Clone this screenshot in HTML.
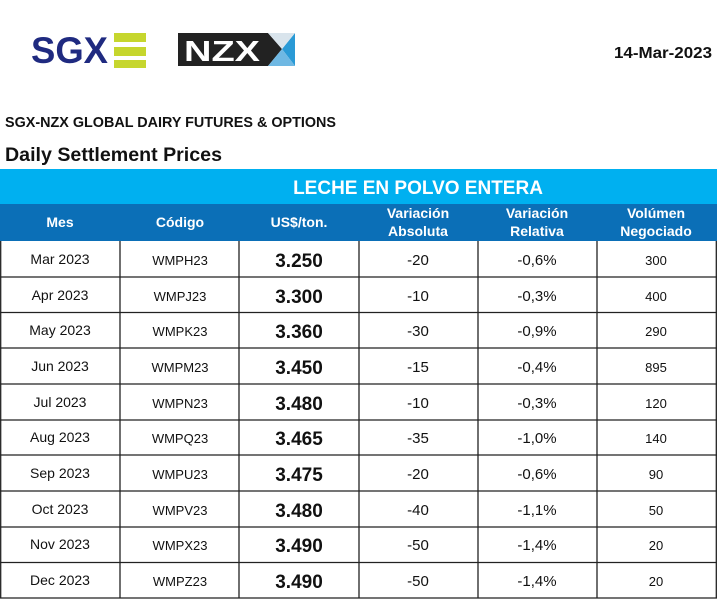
<!DOCTYPE html>
<html><head><meta charset="utf-8"><style>
html,body{margin:0;padding:0;background:#fff;}
svg{display:block;font-family:"Liberation Sans",sans-serif;}
</style></head><body>
<svg width="717" height="600" viewBox="0 0 717 600" xmlns="http://www.w3.org/2000/svg">
<rect width="717" height="600" fill="#fff"/>
<!-- SGX logo -->
<text x="31" y="63" font-size="37" font-weight="bold" fill="#1f2a80" textLength="77" lengthAdjust="spacingAndGlyphs">SGX</text>
<rect x="114" y="33" width="32" height="9" fill="#c6d62e"/>
<rect x="114" y="47" width="32" height="9" fill="#c6d62e"/>
<rect x="114" y="60" width="32" height="8" fill="#c6d62e"/>
<!-- NZX logo -->
<rect x="178" y="33" width="117" height="33" fill="#222"/>
<text x="184" y="61" font-size="29" font-weight="bold" fill="#fff" textLength="76" lengthAdjust="spacingAndGlyphs">NZX</text>
<polygon points="268,33 295,33 295,66 268,66 282,49" fill="#fff"/>
<polygon points="282,49 295,33 295,66" fill="#2a9ad6"/>
<polygon points="268,33 282,49 295,33" fill="#d9e4ec"/>
<polygon points="268,66 282,49 295,66" fill="#6fb8e3"/>
<text x="712" y="58" font-size="16" font-weight="bold" fill="#111" text-anchor="end" textLength="98" lengthAdjust="spacingAndGlyphs">14-Mar-2023</text>
<text x="5" y="127" font-size="15" font-weight="bold" fill="#111" textLength="331" lengthAdjust="spacingAndGlyphs">SGX-NZX GLOBAL DAIRY FUTURES &amp; OPTIONS</text>
<text x="5" y="161" font-size="19" font-weight="bold" fill="#111" textLength="217" lengthAdjust="spacingAndGlyphs">Daily Settlement Prices</text>
<!-- header -->
<rect x="0" y="169" width="717" height="35" fill="#00b0f0"/>
<text x="418" y="194" font-size="19" font-weight="bold" fill="#fff" text-anchor="middle">LECHE EN POLVO ENTERA</text>
<rect x="0" y="204" width="717" height="37" fill="#0b6fb7"/>
<g font-size="14" font-weight="bold" fill="#fff" text-anchor="middle">
<text x="60" y="227">Mes</text>
<text x="180" y="227">Código</text>
<text x="299" y="227">US$/ton.</text>
<text x="418" y="218">Variación</text><text x="418" y="236">Absoluta</text>
<text x="537" y="218">Variación</text><text x="537" y="236">Relativa</text>
<text x="656" y="218">Volúmen</text><text x="656" y="236">Negociado</text>
</g>
<g stroke="#222" stroke-width="1.3" fill="none">
<line x1="0.7" y1="241" x2="0.7" y2="598"/>
<line x1="120" y1="241" x2="120" y2="598"/>
<line x1="239" y1="241" x2="239" y2="598"/>
<line x1="359" y1="241" x2="359" y2="598"/>
<line x1="478" y1="241" x2="478" y2="598"/>
<line x1="597" y1="241" x2="597" y2="598"/>
<line x1="716.3" y1="241" x2="716.3" y2="598"/>
<line x1="0" y1="277" x2="717" y2="277"/>
<line x1="0" y1="312.5" x2="717" y2="312.5"/>
<line x1="0" y1="348" x2="717" y2="348"/>
<line x1="0" y1="384" x2="717" y2="384"/>
<line x1="0" y1="420" x2="717" y2="420"/>
<line x1="0" y1="455" x2="717" y2="455"/>
<line x1="0" y1="491" x2="717" y2="491"/>
<line x1="0" y1="527" x2="717" y2="527"/>
<line x1="0" y1="562.5" x2="717" y2="562.5"/>
<line x1="0" y1="598" x2="717" y2="598"/>
</g>
<g fill="#111" text-anchor="middle">
<g font-size="14"><text x="60" y="264">Mar 2023</text><text x="60" y="300">Apr 2023</text><text x="60" y="335">May 2023</text><text x="60" y="371">Jun 2023</text><text x="60" y="407">Jul 2023</text><text x="60" y="442">Aug 2023</text><text x="60" y="478">Sep 2023</text><text x="60" y="514">Oct 2023</text><text x="60" y="549">Nov 2023</text><text x="60" y="585">Dec 2023</text></g>
<g font-size="13"><text x="180" y="265">WMPH23</text><text x="180" y="301">WMPJ23</text><text x="180" y="336">WMPK23</text><text x="180" y="372">WMPM23</text><text x="180" y="408">WMPN23</text><text x="180" y="443">WMPQ23</text><text x="180" y="479">WMPU23</text><text x="180" y="515">WMPV23</text><text x="180" y="550">WMPX23</text><text x="180" y="586">WMPZ23</text></g>
<g font-size="19" font-weight="bold"><text x="299" y="267">3.250</text><text x="299" y="303">3.300</text><text x="299" y="338">3.360</text><text x="299" y="374">3.450</text><text x="299" y="410">3.480</text><text x="299" y="445">3.465</text><text x="299" y="481">3.475</text><text x="299" y="517">3.480</text><text x="299" y="552">3.490</text><text x="299" y="588">3.490</text></g>
<g font-size="15"><text x="418" y="265">-20</text><text x="418" y="301">-10</text><text x="418" y="336">-30</text><text x="418" y="372">-15</text><text x="418" y="408">-10</text><text x="418" y="443">-35</text><text x="418" y="479">-20</text><text x="418" y="515">-40</text><text x="418" y="550">-50</text><text x="418" y="586">-50</text></g>
<g font-size="15"><text x="537" y="265">-0,6%</text><text x="537" y="301">-0,3%</text><text x="537" y="336">-0,9%</text><text x="537" y="372">-0,4%</text><text x="537" y="408">-0,3%</text><text x="537" y="443">-1,0%</text><text x="537" y="479">-0,6%</text><text x="537" y="515">-1,1%</text><text x="537" y="550">-1,4%</text><text x="537" y="586">-1,4%</text></g>
<g font-size="13"><text x="656" y="265">300</text><text x="656" y="301">400</text><text x="656" y="336">290</text><text x="656" y="372">895</text><text x="656" y="408">120</text><text x="656" y="443">140</text><text x="656" y="479">90</text><text x="656" y="515">50</text><text x="656" y="550">20</text><text x="656" y="586">20</text></g>
</g>
</svg>
</body></html>
